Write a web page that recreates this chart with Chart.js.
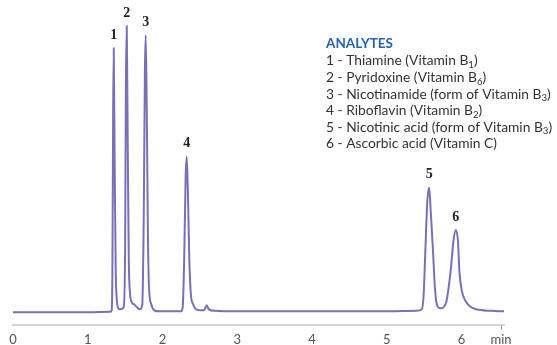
<!DOCTYPE html>
<html>
<head>
<meta charset="utf-8">
<script src="https://cdn.jsdelivr.net/npm/chart.js@4"></script>
<style>
html, body { margin: 0; padding: 0; background: #fff; }
#wrap { width: 557px; height: 345px; position: relative; }
</style>
</head>
<body>
<div id="wrap"><canvas id="chart"></canvas></div>
<script>
// retention time (min) and detector response
const times = [0, 0.5, 1.0, 1.30, 1.32, 1.33, 1.34, 1.348, 1.36, 1.375, 1.39, 1.41, 1.43, 1.48, 1.50, 1.51,
  1.522, 1.535, 1.55, 1.565, 1.59, 1.62, 1.66, 1.70, 1.73, 1.75, 1.765, 1.776, 1.79, 1.805, 1.82, 1.85,
  1.89, 1.95, 2.1, 2.25, 2.27, 2.29, 2.31, 2.325, 2.34, 2.36, 2.38, 2.41, 2.45, 2.52, 2.56, 2.593,
  2.62, 2.7, 3.0, 3.5, 4.0, 4.5, 5.0, 5.4, 5.47, 5.495, 5.518, 5.545, 5.569, 5.59, 5.618, 5.645,
  5.67, 5.70, 5.739, 5.77, 5.80, 5.856, 5.895, 5.926, 5.955, 5.973, 6.007, 6.05, 6.113, 6.2, 6.4, 6.57];
const signal = [0, 0, 0, 0.5, 2, 40, 200, 263, 150, 40, 12, 4, 3, 5, 60, 220,
  285, 170, 50, 20, 10, 8, 5, 3, 8, 100, 240, 276, 200, 80, 25, 8,
  2, 1, 1, 1, 5, 50, 135, 155, 120, 50, 18, 8, 3, 2, 2.5, 7,
  3, 1.5, 1, 1, 1, 1, 1, 1.5, 3, 18, 62, 112, 124, 100, 64, 25,
  8, 4.5, 4, 6, 11, 41, 72, 82, 70, 41, 21, 12, 6, 3, 1.5, 1];

const xTicks = [0, 1, 2, 3, 4, 5, 6];
const axisEnd = 6.53;
const peakTimes = [1.348, 1.522, 1.776, 2.325, 5.569, 5.926];
const peakLabels = ['1', '2', '3', '4', '5', '6'];
const legendTitle = 'ANALYTES';
const analytes = [
  'Thiamine (Vitamin B₁)',
  'Pyridoxine (Vitamin B₆)',
  'Nicotinamide (form of Vitamin B₃)',
  'Riboflavin (Vitamin B₂)',
  'Nicotinic acid (form of Vitamin B₃)',
  'Ascorbic acid (Vitamin C)'
];

const SUBS = '₀₁₂₃₄₅₆₇₈₉';

function drawRich(c, text, x, y, size) {
  const parts = text.split(/([₀-₉]+)/);
  parts.forEach(p => {
    if (!p) return;
    if (SUBS.includes(p[0])) {
      const digits = p.split('').map(ch => SUBS.indexOf(ch)).join('');
      c.font = (size * 0.7).toFixed(1) + 'px Lato';
      c.fillText(digits, x, y + size * 0.28);
      x += c.measureText(digits).width;
    } else {
      c.font = size + 'px Lato';
      c.fillText(p, x, y);
      x += c.measureText(p).width;
    }
  });
}

const annotations = {
  id: 'annotations',
  afterDatasetsDraw(chart) {
    const c = chart.ctx;
    const xs = chart.scales.x, ys = chart.scales.y;
    c.save();
    // peak numbers
    c.fillStyle = '#222';
    c.font = 'bold 14px "Liberation Serif"';
    c.textAlign = 'center';
    c.textBaseline = 'bottom';
    peakTimes.forEach((t, i) => {
      const v = signal[times.indexOf(t)];
      c.fillText(peakLabels[i], xs.getPixelForValue(t), ys.getPixelForValue(v) - 6);
    });
    // analyte list
    c.textAlign = 'left';
    c.textBaseline = 'middle';
    c.fillStyle = '#2563ad';
    c.font = 'bold 13.5px Lato';
    c.fillText(legendTitle, 326, 44);
    c.fillStyle = '#333';
    analytes.forEach((a, i) => {
      drawRich(c, (i + 1) + ' - ' + a, 326, 61 + i * 16.6, 13.8);
    });
    c.restore();
  }
};

Chart.defaults.font.family = 'Lato';

new Chart(document.getElementById('chart'), {
  type: 'line',
  data: {
    datasets: [{
      data: times.map((t, i) => ({ x: t, y: signal[i] })),
      borderColor: '#7c6fb7',
      borderWidth: 2,
      pointRadius: 0,
      cubicInterpolationMode: 'monotone',
      fill: false
    }]
  },
  options: {
    responsive: true,
    maintainAspectRatio: false,
    animation: false,
    layout: { padding: { left: 13, right: 53, top: 0, bottom: -6 } },
    scales: {
      x: {
        type: 'linear',
        min: 0,
        max: 6.57,
        afterBuildTicks: scale => {
          scale.ticks = xTicks.concat([axisEnd]).map(v => ({ value: v }));
        },
        border: { display: true, color: '#d2d2d2', width: 2 },
        grid: {
          drawOnChartArea: false,
          drawTicks: true,
          tickLength: 4,
          color: ctx => (ctx.tick && ctx.tick.value === axisEnd) ? '#888' : 'rgba(0,0,0,0)'
        },
        ticks: {
          color: '#555',
          font: { size: 13 },
          padding: 3,
          maxRotation: 0,
          autoSkip: false,
          callback: v => v === axisEnd ? 'min' : String(v)
        }
      },
      y: {
        display: false,
        min: -13,
        max: 311
      }
    },
    plugins: {
      legend: { display: false },
      tooltip: { enabled: false }
    }
  },
  plugins: [annotations]
});
</script>
</body>
</html>
